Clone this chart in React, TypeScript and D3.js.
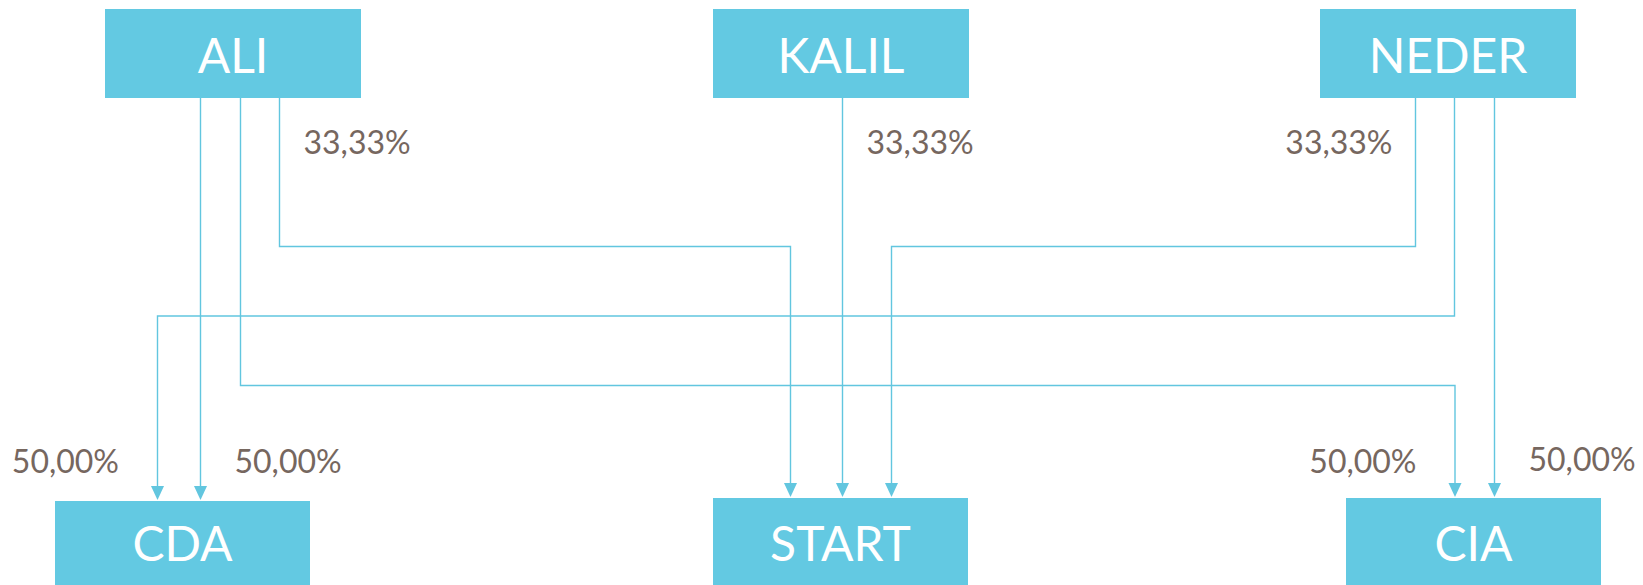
import React, { useEffect, useRef } from "react";
import * as d3 from "d3";

// Nodes of the flow diagram
const topNodes = ["ALI", "KALIL", "NEDER"];
const bottomNodes = ["CDA", "START", "CIA"];

// Links: source -> target with share (%)
const linkFrom = ["ALI", "ALI", "ALI", "KALIL", "NEDER", "NEDER", "NEDER"];
const linkTo = ["CDA", "CIA", "START", "START", "START", "CDA", "CIA"];
const linkShare = [50, 50, 33.33, 33.33, 33.33, 50, 50];

// Layout (positions kept apart from the data)
const W = 1643;
const H = 585;
const BOX_W = 256;
const topBoxLeft: Record<string, number> = { ALI: 105, KALIL: 713, NEDER: 1320 };
const bottomBoxLeft: Record<string, number> = { CDA: 55, START: 713, CIA: 1346 };
const bottomBoxTop: Record<string, number> = { CDA: 501, START: 498, CIA: 498 };
const TOP_Y0 = 9;
const TOP_Y1 = 98;

// port offsets from box left edge, per link
const fromOffset = [95.5, 135.5, 174.5, 129.5, 95.5, 134.5, 174.5];
const toOffset = [145.5, 109, 77.5, 129.5, 178.5, 102.5, 148.5];
// horizontal lane (null = straight drop)
const linkLane: (number | null)[] = [null, 2, 0, null, 0, 1, null];
// label placement: at source ("from") or target ("to"), left or right of the line
const labelAt = ["to-right", "to-left", "from-right", "from-right", "from-left", "to-left", "to-right"];

const BOX_FILL = "#63c9e2";
const LINE = "#62c6df";
const LABEL = "#76675f";
const FONT = "Lato, 'Open Sans', sans-serif";

export default function App() {
  const svgRef = useRef<SVGSVGElement>(null);

  useEffect(() => {
    if (!svgRef.current) return;
    const svg = d3.select(svgRef.current);
    svg.selectAll("*").remove();

    const laneY = d3.scaleLinear().domain([0, 2]).range([246.5, 385.5]);
    const fmt = (v: number) => d3.format(".2f")(v).replace(".", ",") + "%";

    const links = linkFrom.map((f, i) => {
      const t = linkTo[i];
      const x1 = topBoxLeft[f] + fromOffset[i];
      const x2 = bottomBoxLeft[t] + toOffset[i];
      const yEnd = bottomBoxTop[t] - 1;
      return { f, t, x1, x2, yEnd, lane: linkLane[i], share: linkShare[i], where: labelAt[i] };
    });

    // 1. Connector lines
    const gLines = svg.append("g");
    links.forEach(l => {
      const pts: [number, number][] =
        l.lane === null
          ? [[l.x1, TOP_Y1], [l.x1, l.yEnd - 12]]
          : [
              [l.x1, TOP_Y1],
              [l.x1, laneY(l.lane)],
              [l.x2, laneY(l.lane)],
              [l.x2, l.yEnd - 12],
            ];
      gLines
        .append("path")
        .attr("d", d3.line()(pts))
        .attr("fill", "none")
        .attr("stroke", LINE)
        .attr("stroke-width", 1.4);

      // arrow head
      const ax = l.lane === null ? l.x1 : l.x2;
      gLines
        .append("path")
        .attr("d", `M${ax - 6.5},${l.yEnd - 14}L${ax + 6.5},${l.yEnd - 14}L${ax},${l.yEnd}Z`)
        .attr("fill", LINE);
    });

    // 2. Boxes
    const gBoxes = svg.append("g");
    topNodes.forEach(n => {
      gBoxes
        .append("rect")
        .attr("x", topBoxLeft[n])
        .attr("y", TOP_Y0)
        .attr("width", BOX_W)
        .attr("height", TOP_Y1 - TOP_Y0)
        .attr("fill", BOX_FILL);
      gBoxes
        .append("text")
        .attr("x", topBoxLeft[n] + BOX_W / 2)
        .attr("y", 72.5)
        .attr("text-anchor", "middle")
        .attr("font-family", FONT)
        .attr("font-size", 48)
        .attr("fill", "#ffffff")
        .text(n);
    });
    bottomNodes.forEach(n => {
      gBoxes
        .append("rect")
        .attr("x", bottomBoxLeft[n])
        .attr("y", bottomBoxTop[n])
        .attr("width", BOX_W - 1)
        .attr("height", H - bottomBoxTop[n] + 10)
        .attr("fill", BOX_FILL);
      gBoxes
        .append("text")
        .attr("x", bottomBoxLeft[n] + (BOX_W - 1) / 2)
        .attr("y", 561)
        .attr("text-anchor", "middle")
        .attr("font-family", FONT)
        .attr("font-size", 48)
        .attr("fill", "#ffffff")
        .text(n);
    });

    // 3. Share labels
    const gLabels = svg.append("g");
    links.forEach((l, i) => {
      const atFrom = l.where.startsWith("from");
      const right = l.where.endsWith("right");
      const x = atFrom ? l.x1 : l.x2;
      const y = atFrom ? 154 : i === 6 ? 471 : 473;
      const gap = atFrom ? (right ? 24 : 23) : right ? 34 : 38.5;
      gLabels
        .append("text")
        .attr("x", right ? x + gap : x - gap)
        .attr("y", y)
        .attr("text-anchor", right ? "start" : "end")
        .attr("font-family", FONT)
        .attr("font-size", 32)
        .attr("fill", LABEL)
        .text(fmt(l.share));
    });
  }, []);

  return (
    <svg
      ref={svgRef}
      width={W}
      height={H}
      style={{ position: "absolute", left: 0, top: 0, background: "#ffffff" }}
    />
  );
}
